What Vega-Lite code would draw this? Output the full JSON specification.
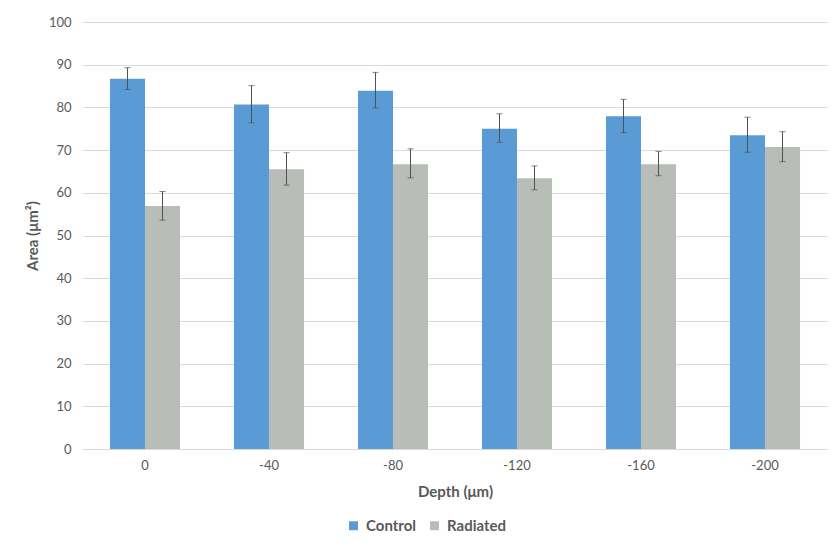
{
  "$schema": "https://vega.github.io/schema/vega-lite/v6.json",
  "width": 744,
  "height": 427,
  "autosize": {"type": "none"},
  "padding": {"left": 83, "top": 22, "right": 6, "bottom": 94},
  "background": "white",
  "config": {
    "font": "Lato",
    "view": {"stroke": null},
    "axis": {"labelFont": "Lato", "titleFont": "Lato", "labelColor": "#595959", "titleColor": "#595959", "labelFontSize": 13, "titleFontSize": 15, "titleFontWeight": "bold"},
    "axisY": {"values": [0,10,20,30,40,50,60,70,80,90,100], "ticks": false, "domain": false, "gridColor": "#d9d9d9", "labelPadding": 12, "titlePadding": 8}
  },
  "data": {
    "values": [
      {"depth": "0", "group": "Control", "value": 86.7, "low": 84.2, "high": 89.3},
      {"depth": "0", "group": "Radiated", "value": 56.9, "low": 53.6, "high": 60.3},
      {"depth": "-40", "group": "Control", "value": 80.7, "low": 76.4, "high": 85.1},
      {"depth": "-40", "group": "Radiated", "value": 65.5, "low": 61.8, "high": 69.4},
      {"depth": "-80", "group": "Control", "value": 83.9, "low": 79.9, "high": 88.2},
      {"depth": "-80", "group": "Radiated", "value": 66.7, "low": 63.5, "high": 70.3},
      {"depth": "-120", "group": "Control", "value": 75.0, "low": 71.8, "high": 78.5},
      {"depth": "-120", "group": "Radiated", "value": 63.4, "low": 60.7, "high": 66.3},
      {"depth": "-160", "group": "Control", "value": 77.9, "low": 74.1, "high": 81.9},
      {"depth": "-160", "group": "Radiated", "value": 66.7, "low": 64.0, "high": 69.7},
      {"depth": "-200", "group": "Control", "value": 73.5, "low": 69.5, "high": 77.7},
      {"depth": "-200", "group": "Radiated", "value": 70.7, "low": 67.3, "high": 74.3}
    ]
  },
  "encoding": {
    "x": {
      "field": "depth", "type": "nominal",
      "sort": ["0", "-40", "-80", "-120", "-160", "-200"],
      "scale": {"paddingInner": 0.435, "paddingOuter": 0.2175},
      "axis": {"title": "Depth (μm)", "labelAngle": 0, "ticks": false, "domainColor": "#d9d9d9", "labelPadding": 10, "titlePadding": 12}
    },
    "xOffset": {"field": "group", "type": "nominal", "sort": ["Control", "Radiated"], "scale": {"paddingInner": 0, "paddingOuter": 0}}
  },
  "layer": [
    {
      "mark": {"type": "bar"},
      "encoding": {
        "y": {
          "field": "value", "type": "quantitative",
          "scale": {"domain": [0, 100]},
          "axis": {"title": "Area (μm²)"}
        },
        "color": {
          "field": "group", "type": "nominal",
          "scale": {"domain": ["Control", "Radiated"], "range": ["#5b9bd5", "#b9bdb7"]},
          "legend": {"title": null, "orient": "none", "legendX": 263, "legendY": 496, "direction": "horizontal", "symbolType": "square", "symbolSize": 80, "symbolStrokeWidth": 0, "labelFontSize": 15, "labelFontWeight": "bold", "labelColor": "#595959", "labelFont": "Lato", "columnPadding": 10, "labelOffset": 5}
        }
      }
    },
    {
      "mark": {"type": "rule", "color": "#505050", "strokeWidth": 1},
      "encoding": {
        "y": {"field": "low", "type": "quantitative", "axis": {"title": "Area (μm²)"}},
        "y2": {"field": "high"}
      }
    },
    {
      "mark": {"type": "tick", "color": "#505050", "thickness": 1, "size": 6},
      "encoding": {"y": {"field": "low", "type": "quantitative", "axis": {"title": "Area (μm²)"}}}
    },
    {
      "mark": {"type": "tick", "color": "#505050", "thickness": 1, "size": 6},
      "encoding": {"y": {"field": "high", "type": "quantitative", "axis": {"title": "Area (μm²)"}}}
    }
  ]
}
